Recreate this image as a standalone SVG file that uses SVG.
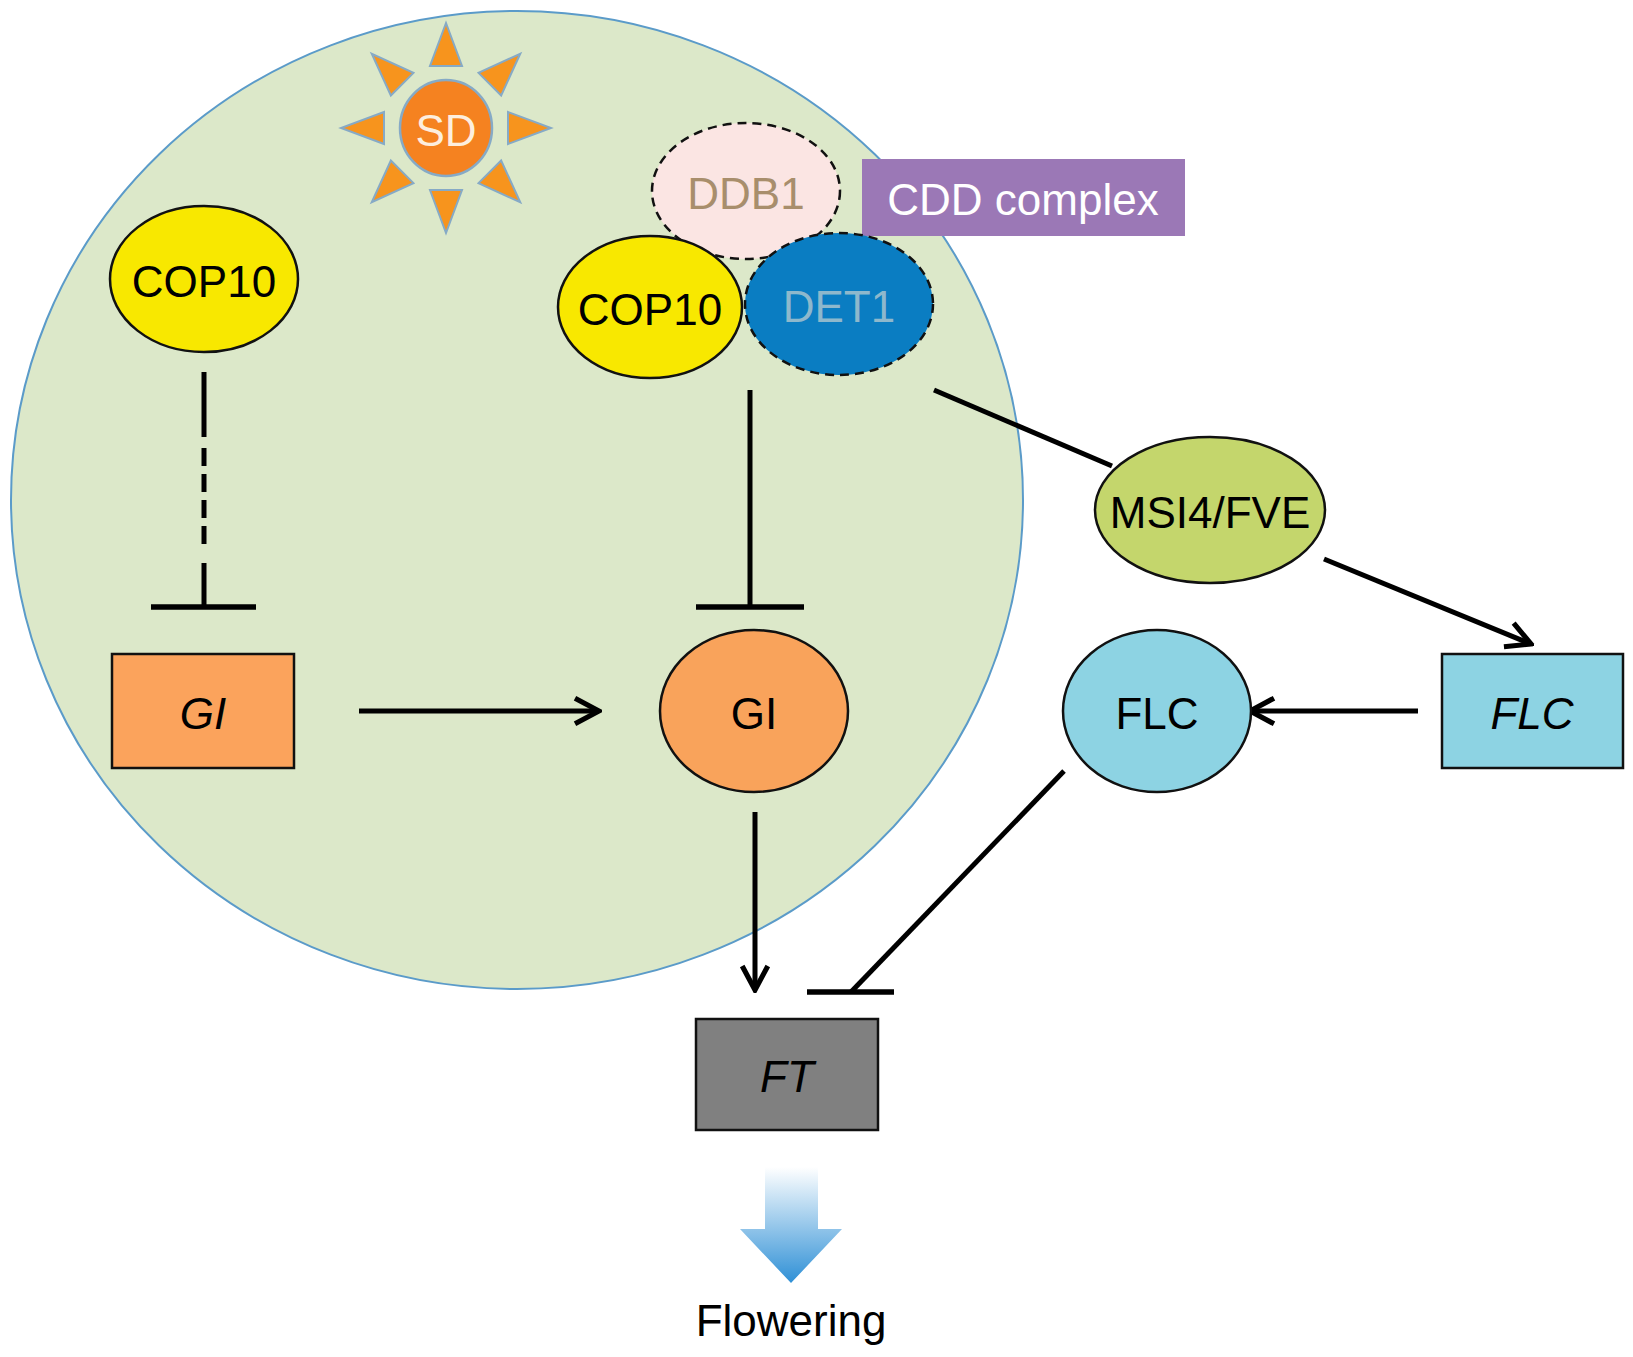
<svg xmlns="http://www.w3.org/2000/svg" width="1633" height="1357" viewBox="0 0 1633 1357">
<defs>
<style>
.t{font-family:"Liberation Sans",Arial,sans-serif;font-size:44px;text-anchor:middle;dominant-baseline:central}
.ln{stroke:#000;stroke-width:5;fill:none}
.bar{stroke:#000;stroke-width:5.5;fill:none}
.node{stroke:#111;stroke-width:2.5}
.dash{stroke:#111;stroke-width:2.5;stroke-dasharray:9 6}
.ray{fill:#f7941d;stroke:#86aac6;stroke-width:2}
</style>
<marker id="arr" viewBox="0 0 20 20" refX="18" refY="10" markerWidth="32" markerHeight="32" markerUnits="userSpaceOnUse" orient="auto">
<path d="M3,2 L18,10 L3,18" fill="none" stroke="#000" stroke-width="3.2"/>
</marker>
<linearGradient id="fg" x1="0" y1="0" x2="0" y2="1">
<stop offset="0" stop-color="#ffffff"/>
<stop offset="1" stop-color="#2f90d6"/>
</linearGradient>
</defs>
<rect width="1633" height="1357" fill="#fff"/>

<g id="cell">
<ellipse cx="517" cy="500" rx="506" ry="489" fill="#dce8c9" stroke="#5b9bc9" stroke-width="2"/>
</g>

<g id="sun">
<g transform="translate(446,128)">
<polygon class="ray" points="-16,-62 16,-62 0,-105"/>
<polygon class="ray" points="-16,-62 16,-62 0,-105" transform="rotate(45)"/>
<polygon class="ray" points="-16,-62 16,-62 0,-105" transform="rotate(90)"/>
<polygon class="ray" points="-16,-62 16,-62 0,-105" transform="rotate(135)"/>
<polygon class="ray" points="-16,-62 16,-62 0,-105" transform="rotate(180)"/>
<polygon class="ray" points="-16,-62 16,-62 0,-105" transform="rotate(225)"/>
<polygon class="ray" points="-16,-62 16,-62 0,-105" transform="rotate(270)"/>
<polygon class="ray" points="-16,-62 16,-62 0,-105" transform="rotate(315)"/>
<ellipse cx="0" cy="0" rx="46" ry="48" fill="#f58220" stroke="#86aac6" stroke-width="2.5"/>
</g>
<text class="t" x="446" y="130" fill="#fdeede">SD</text>
</g>

<g id="connectors">
<line class="ln" x1="204" y1="372" x2="204" y2="437"/>
<line class="ln" x1="204" y1="448" x2="204" y2="552" stroke-dasharray="18 8"/>
<line class="ln" x1="204" y1="563" x2="204" y2="607"/>
<line class="bar" x1="151" y1="607" x2="256" y2="607"/>
<line class="ln" x1="750" y1="390" x2="750" y2="607"/>
<line class="bar" x1="696" y1="607" x2="804" y2="607"/>
<line class="ln" x1="359" y1="711" x2="599" y2="711" marker-end="url(#arr)"/>
<line class="ln" x1="934" y1="390" x2="1112" y2="466"/>
<line class="ln" x1="1324" y1="559" x2="1531" y2="644" marker-end="url(#arr)"/>
<line class="ln" x1="1418" y1="711" x2="1250" y2="711" marker-end="url(#arr)"/>
<line class="ln" x1="1064" y1="771" x2="851" y2="992"/>
<line class="bar" x1="807" y1="992" x2="894" y2="992"/>
<line class="ln" x1="755" y1="812" x2="755" y2="990" marker-end="url(#arr)"/>
</g>

<g id="cop10-left">
<ellipse class="node" cx="204" cy="279" rx="94" ry="73" fill="#f8e800"/>
<text class="t" x="204" y="281">COP10</text>
</g>

<g id="ddb1">
<ellipse class="dash" cx="746" cy="191" rx="94" ry="68" fill="#fbe5e3"/>
<text class="t" x="746" y="193" fill="#a88e6c">DDB1</text>
</g>

<g id="cdd-label">
<rect x="862" y="159" width="323" height="77" fill="#9b78b6"/>
<text class="t" x="1023" y="199" fill="#ffffff">CDD complex</text>
</g>

<g id="cop10-right">
<ellipse class="node" cx="650" cy="307" rx="92" ry="71" fill="#f8e800"/>
<text class="t" x="650" y="309">COP10</text>
</g>

<g id="det1">
<ellipse class="dash" cx="839" cy="304" rx="94" ry="71" fill="#0a7dc2"/>
<text class="t" x="839" y="306" fill="#8eb8cc">DET1</text>
</g>

<g id="gi-gene">
<rect class="node" x="112" y="654" width="182" height="114" fill="#fba35c"/>
<text class="t" x="203" y="713" font-style="italic">GI</text>
</g>

<g id="gi-protein">
<ellipse class="node" cx="754" cy="711" rx="94" ry="81" fill="#f9a35b"/>
<text class="t" x="754" y="713">GI</text>
</g>

<g id="msi4">
<ellipse class="node" cx="1210" cy="510" rx="115" ry="73" fill="#c4d66c"/>
<text class="t" x="1210" y="512">MSI4/FVE</text>
</g>

<g id="flc-gene">
<rect class="node" x="1442" y="654" width="181" height="114" fill="#8dd3e3"/>
<text class="t" x="1532" y="713" font-style="italic">FLC</text>
</g>

<g id="flc-protein">
<ellipse class="node" cx="1157" cy="711" rx="94" ry="81" fill="#8dd3e3"/>
<text class="t" x="1157" y="713">FLC</text>
</g>

<g id="ft">
<rect class="node" x="696" y="1019" width="182" height="111" fill="#808080"/>
<text class="t" x="787" y="1076" font-style="italic">FT</text>
</g>

<g id="flowering">
<polygon points="765,1167 818,1167 818,1229 842,1229 791,1283 740,1229 765,1229" fill="url(#fg)"/>
<text class="t" x="791" y="1320">Flowering</text>
</g>
</svg>
